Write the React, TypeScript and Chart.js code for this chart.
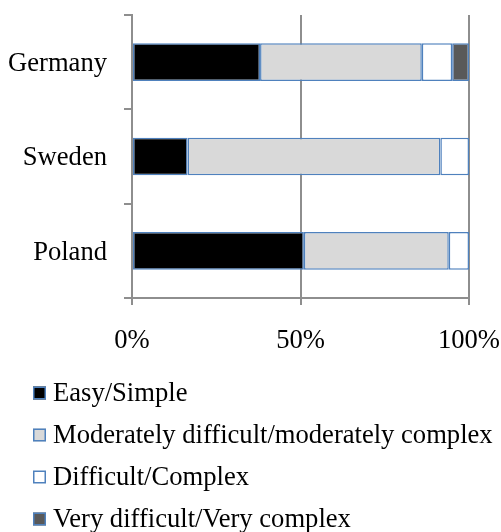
import React, { useEffect, useRef } from "react";
import { Chart, registerables } from "chart.js";

Chart.register(...registerables);

const countries = ["Germany", "Sweden", "Poland"];
const easySimple = [38, 16.5, 51];
const moderatelyDifficult = [48, 75, 43];
const difficultComplex = [9, 8.5, 6];
const veryDifficult = [5, 0, 0];
const seriesNames = [
  "Easy/Simple",
  "Moderately difficult/moderately complex",
  "Difficult/Complex",
  "Very difficult/Very complex",
];
const xTickValues = [0, 50, 100];

const FONT = "'Liberation Serif', 'Times New Roman', serif";
const FONT_SIZE = 26.6;
const BORDER_BLUE = "#4F81BD";
const GRID_GREY = "#8E8E8E";

const legendPlugin = {
  id: "stackedLegend",
  afterDraw(chart: any) {
    const ctx = chart.ctx;
    const area = chart.chartArea;
    const startY = area.bottom + 95;
    const rowGap = 42;
    ctx.save();
    chart.data.datasets.forEach((ds: any, i: number) => {
      const cy = startY + i * rowGap;
      const bx = 33;
      const size = 13;
      ctx.fillStyle = ds.backgroundColor;
      ctx.fillRect(bx, cy - size / 2, size, size);
      ctx.strokeStyle = BORDER_BLUE;
      ctx.lineWidth = 1.5;
      ctx.strokeRect(bx + 0.75, cy - size / 2 + 0.75, size - 1.5, size - 1.5);
      ctx.fillStyle = "#000";
      ctx.font = `${FONT_SIZE}px ${FONT}`;
      ctx.textBaseline = "middle";
      ctx.textAlign = "left";
      ctx.fillText(ds.label, 53, cy + 1);
    });
    ctx.restore();
  },
};

export default function App() {
  const ref = useRef<HTMLCanvasElement>(null);
  useEffect(() => {
    if (!ref.current) return;
    const seriesValues = [easySimple, moderatelyDifficult, difficultComplex, veryDifficult];
    const fills = ["#000000", "#D9D9D9", "#FFFFFF", "#595959"];
    const chart = new Chart(ref.current, {
      type: "bar",
      data: {
        labels: countries,
        datasets: seriesValues.map((vals, i) => ({
          label: seriesNames[i],
          data: vals,
          backgroundColor: fills[i],
          borderColor: BORDER_BLUE,
          borderWidth: 1.5,
          borderSkipped: false,
          barPercentage: 0.4,
          categoryPercentage: 1,
        })),
      },
      options: {
        indexAxis: "y",
        animation: false,
        responsive: false,
        maintainAspectRatio: false,
        layout: { padding: { top: 15, right: 32, left: 0, bottom: 0 } },
        plugins: { legend: { display: false }, tooltip: { enabled: false } },
        scales: {
          x: {
            stacked: true,
            min: 0,
            max: 100,
            afterBuildTicks: (scale: any) => {
              scale.ticks = xTickValues.map((v) => ({ value: v }));
            },
            afterFit: (scale: any) => {
              scale.height = 234;
              scale.paddingLeft = 0;
              scale.paddingRight = 0;
            },
            ticks: {
              callback: (v: any) => `${v}%`,
              color: "#000",
              font: { family: FONT, size: FONT_SIZE },
              padding: 20,
              maxRotation: 0,
            },
            grid: { color: GRID_GREY, lineWidth: 2, tickLength: 7 },
            border: { color: GRID_GREY, width: 2 },
          },
          y: {
            stacked: true,
            afterFit: (scale: any) => {
              scale.width = 132;
              scale.paddingTop = 0;
              scale.paddingBottom = 0;
            },
            ticks: {
              color: "#000",
              font: { family: FONT, size: FONT_SIZE },
              padding: 17,
              labelOffset: 2,
            },
            grid: {
              offset: true,
              drawOnChartArea: false,
              color: GRID_GREY,
              lineWidth: 2,
              tickLength: 8,
            },
            border: { color: GRID_GREY, width: 2 },
          },
        },
      },
      plugins: [legendPlugin],
    });
    return () => chart.destroy();
  }, []);
  return (
    <div style={{ position: "absolute", left: 0, top: 0, width: 501, height: 532, background: "#fff" }}>
      <canvas ref={ref} width={501} height={532} style={{ width: 501, height: 532, display: "block" }} />
    </div>
  );
}
